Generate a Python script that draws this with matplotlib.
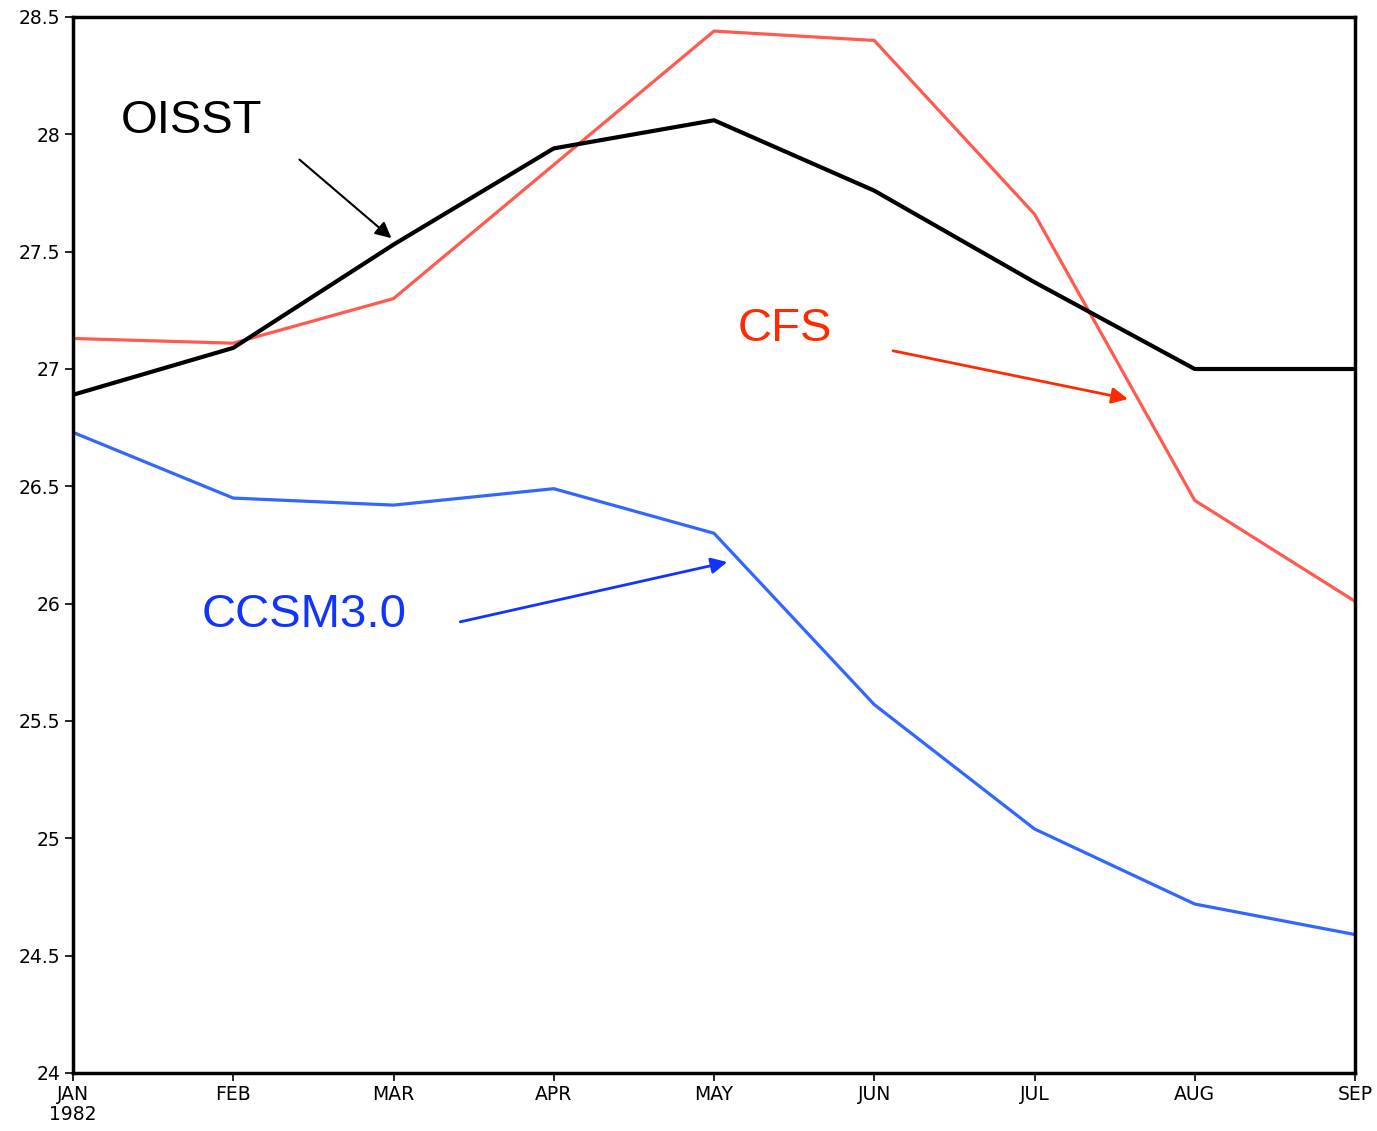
import matplotlib
matplotlib.use("Agg")
import matplotlib.pyplot as plt

MONTHS = ["JAN\n1982", "FEB", "MAR", "APR", "MAY", "JUN", "JUL", "AUG", "SEP"]

oisst = [26.89, 27.09, 27.53, 27.94, 28.06, 27.76, 27.37, 27.00, 27.00]
cfs = [27.13, 27.11, 27.30, 27.87, 28.44, 28.40, 27.66, 26.44, 26.01]
ccsm = [26.73, 26.45, 26.42, 26.49, 26.30, 25.57, 25.04, 24.72, 24.59]

Y_TICKS = [24, 24.5, 25, 25.5, 26, 26.5, 27, 27.5, 28, 28.5]
Y_LABELS = ["24", "24.5", "25", "25.5", "26", "26.5", "27", "27.5", "28", "28.5"]

x = list(range(len(MONTHS)))

fig = plt.figure(figsize=(13.77, 11.31), dpi=100)
ax = fig.add_axes([73 / 1377, 1 - 1073 / 1131, (1355 - 73) / 1377, (1073 - 17) / 1131])

ax.plot(x, cfs, color="#ff5a4f", linewidth=2.3)
ax.plot(x, ccsm, color="#3366ff", linewidth=2.3)
ax.plot(x, oisst, color="black", linewidth=3)

ax.set_xlim(0, 8)
ax.set_ylim(24, 28.5)
ax.set_xticks(x)
ax.set_xticklabels(MONTHS, fontsize=13.5, linespacing=1.0)
ax.set_yticks(Y_TICKS)
ax.set_yticklabels(Y_LABELS, fontsize=13.5)
ax.tick_params(direction="out", length=6, width=1.2, pad=3)
for s in ax.spines.values():
    s.set_linewidth(2.5)

lab_font = dict(family="Liberation Sans", fontsize=34, va="baseline")

# annotations (text + arrow)
ax.annotate("", xy=(2.0, 27.55), xytext=(1.4, 27.90),
            arrowprops=dict(arrowstyle="-|>", color="black", lw=1.5, mutation_scale=24))
ax.text(0.30, 28.007, "OISST", color="black", **lab_font)

ax.annotate("", xy=(6.6, 26.87), xytext=(5.1, 27.08),
            arrowprops=dict(arrowstyle="-|>", color="#ff2a00", lw=2, mutation_scale=24))
ax.text(4.15, 27.12, "CFS", color="#ff2a00", **lab_font)

ax.annotate("", xy=(4.1, 26.18), xytext=(2.4, 25.92),
            arrowprops=dict(arrowstyle="-|>", color="#1133ff", lw=2, mutation_scale=24))
ax.text(0.80, 25.90, "CCSM3.0", color="#1133ff", **lab_font)

fig.savefig("out.png", dpi=100)
plt.close(fig)
